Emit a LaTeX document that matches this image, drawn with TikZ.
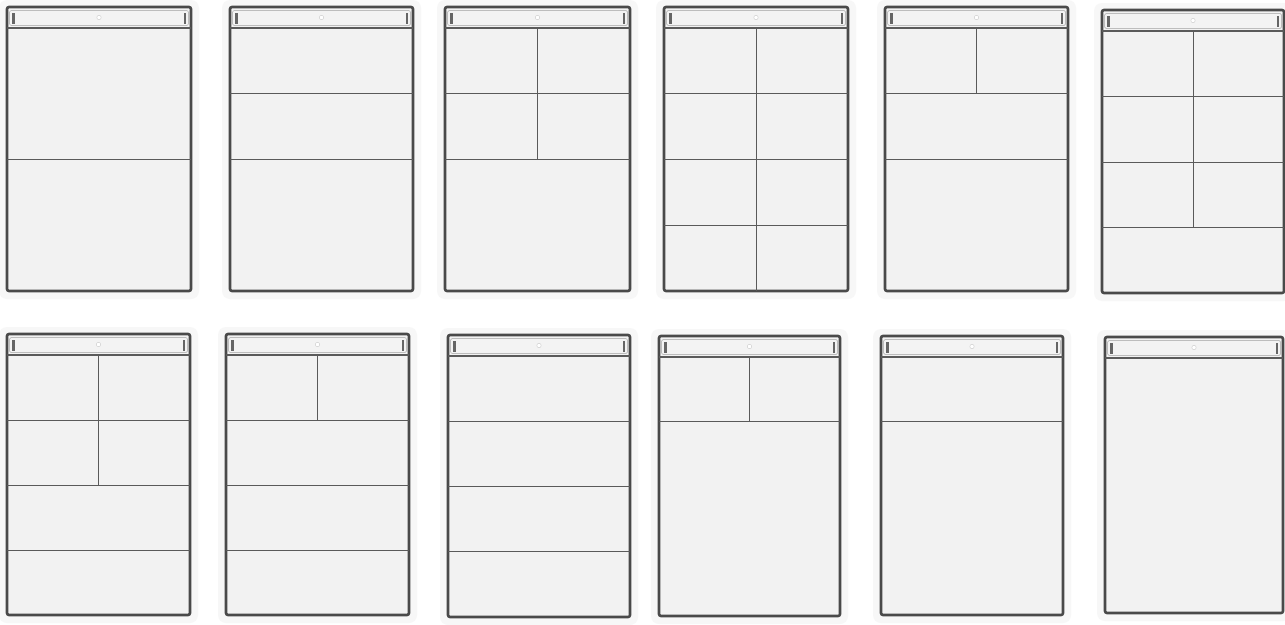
\documentclass[tikz,border=0pt]{standalone}
\usetikzlibrary{calc}
\definecolor{framegray}{HTML}{4A4A4A}
\definecolor{linegray}{HTML}{5A5A5A}
\definecolor{screengray}{HTML}{F2F2F2}
\definecolor{halogray}{HTML}{F7F7F7}
\definecolor{barfill}{HTML}{F3F3F3}
\definecolor{barline}{HTML}{BDBDBD}

\tikzset{
  halo/.style={fill=halogray, rounded corners=8pt},
  frame/.style={draw=framegray, line width=2.6pt, fill=screengray, rounded corners=2pt},
  divider/.style={draw=linegray, line width=1pt},
  bar/.style={draw=barline, fill=barfill, line width=0.7pt, rounded corners=1.5pt},
  tick/.style={fill=framegray!85},
  pics/screen/.style 2 args={code={
    \pgfmathsetmacro\rowh{(#2-21)/4}
    \fill[halo] (-8,-7) rectangle (#1+8,#2+8);
    \draw[frame] (0,0) rectangle (#1,#2);
    % header bar
    \draw[bar] (2.5,3.5) rectangle (#1-2.5,18.5);
    \fill[tick] (5,6) rectangle (7.5,16.5);
    \fill[tick] (#1-7.5,6) rectangle (#1-5,16.5);
    \draw[barline!70, fill=white, line width=0.5pt] (#1/2,10.5) circle (2.2);
    \draw[divider, line width=1.3pt] (0,21) -- (#1,21);
    % grid points, four rows
    \foreach \k in {0,...,4}{
      \coordinate (-l\k) at (0,21+\k*\rowh);
      \coordinate (-e\k) at (#1,21+\k*\rowh);
      \coordinate (-m\k) at (#1/2,21+\k*\rowh);
    }
  }}
}

\begin{document}
\begin{tikzpicture}[x=1pt, y=-1pt]
  \useasboundingbox[fill=white] (0,0) rectangle (1285,624);

  % top row
  \pic (a) at (7,7)     {screen={184}{284}};
  \pic (b) at (230,7)   {screen={183}{284}};
  \pic (c) at (445,7)   {screen={185}{284}};
  \pic (d) at (664,7)   {screen={184}{284}};
  \pic (e) at (885,7)   {screen={183}{284}};
  \pic (f) at (1102,10) {screen={182}{283}};

  % bottom row
  \pic (g) at (7,334)   {screen={183}{281}};
  \pic (h) at (226,334) {screen={183}{281}};
  \pic (i) at (448,335) {screen={182}{282}};
  \pic (j) at (659,336) {screen={181}{280}};
  \pic (k) at (881,336) {screen={182}{279}};
  \pic (l) at (1105,337){screen={178}{276}};

  % splits
  \draw[divider] (a-l2) -- (a-e2);
  \foreach \k in {1,2} \draw[divider] (b-l\k) -- (b-e\k);
  \foreach \k in {1,2} \draw[divider] (c-l\k) -- (c-e\k);
  \draw[divider] (c-m0) -- (c-m2);
  \foreach \k in {1,2,3} \draw[divider] (d-l\k) -- (d-e\k);
  \draw[divider] (d-m0) -- (d-m4);
  \foreach \k in {1,2} \draw[divider] (e-l\k) -- (e-e\k);
  \draw[divider] (e-m0) -- (e-m1);
  \foreach \k in {1,2,3} \draw[divider] (f-l\k) -- (f-e\k);
  \draw[divider] (f-m0) -- (f-m3);

  \foreach \k in {1,2,3} \draw[divider] (g-l\k) -- (g-e\k);
  \draw[divider] (g-m0) -- (g-m2);
  \foreach \k in {1,2,3} \draw[divider] (h-l\k) -- (h-e\k);
  \draw[divider] (h-m0) -- (h-m1);
  \foreach \k in {1,2,3} \draw[divider] (i-l\k) -- (i-e\k);
  \draw[divider] (j-l1) -- (j-e1);
  \draw[divider] (j-m0) -- (j-m1);
  \draw[divider] (k-l1) -- (k-e1);
\end{tikzpicture}
\end{document}
